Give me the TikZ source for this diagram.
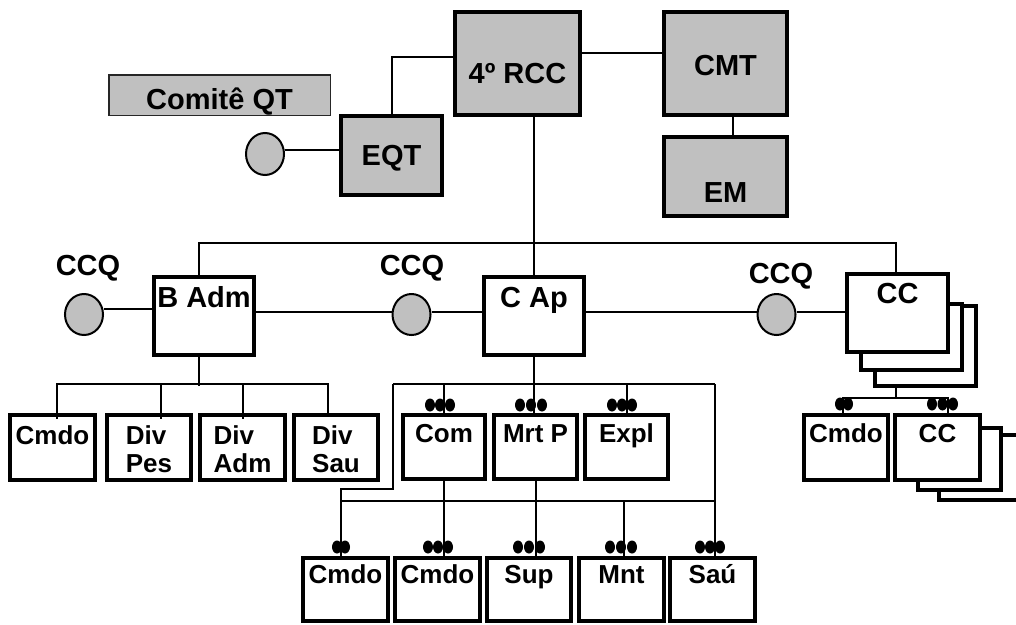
\documentclass[tikz,border=0pt]{standalone}
\usepackage{fontspec}
\setmainfont{Liberation Sans}
\usetikzlibrary{shapes.geometric,calc}
\definecolor{grayc}{HTML}{C0C0C0}
\tikzset{
  boxg/.style={draw, line width=4pt, outer sep=2pt, fill=grayc, inner sep=0pt, anchor=north west},
  boxw/.style={draw, line width=4pt, outer sep=2pt, fill=white, inner sep=0pt, anchor=north west},
  big/.style={font=\bfseries\fontsize{29}{32}\selectfont},
  small/.style={font=\bfseries\fontsize{26}{28}\selectfont},
  conn/.style={line width=2pt},
  ccq/.style={ellipse, draw, line width=2pt, fill=grayc, inner sep=0pt, minimum width=38pt, minimum height=41pt},
  ccqlbl/.style={big, anchor=base, inner sep=0pt}
}
\begin{document}
\begin{tikzpicture}[x=1pt,y=-1pt]
\useasboundingbox (0,0) rectangle (1016,624);
% top
\node[boxg, big, minimum width=125pt, text height=71pt, text depth=32pt] (rcc) at (453,10) {4º RCC};
\node[boxg, big, minimum width=123pt, text height=63pt, text depth=40pt] (cmt) at (662,10) {CMT};
\node[boxg, big, minimum width=123pt, text height=65pt, text depth=14pt] (em) at (662,135) {EM};
\node[boxg, big, minimum width=101pt, text height=49pt, text depth=30pt] (eqt) at (339,114) {EQT};
\node[draw, line width=1.5pt, outer sep=0.75pt, fill=grayc, inner sep=0pt, anchor=north west, big,
      draw=black!85, minimum width=221.5pt, text height=34.25pt, text depth=6.25pt] (comite) at (108,74) {Comitê QT};
\node[ccq, minimum height=42pt] (qc) at (265,154) {};
% middle row
\node[boxw, big, minimum width=100pt, text height=30pt, text depth=48pt] (badm) at (152,275) {B Adm};
\node[boxw, big, minimum width=100pt, text height=30pt, text depth=48pt] (cap) at (482,275) {C Ap};
\node[boxw, minimum width=101pt, minimum height=80pt] (cc3) at (873,304) {};
\node[boxw, minimum width=101pt, minimum height=66pt] (cc2b) at (859,302) {};
\node[boxw, big, minimum width=101pt, text height=29pt, text depth=49pt] (cc) at (845,272) {CC};
\node[ccq] (c1) at (84,314.5) {};
\node[ccq] (c2) at (411.5,314.5) {};
\node[ccq] (c3) at (776.5,314.5) {};
\node[ccqlbl] (l1) at (88,275) {CCQ};
\node[ccqlbl] (l2) at (412,275) {CCQ};
\node[ccqlbl] (l3) at (781,283) {CCQ};
% lower left row
\node[boxw, small, minimum width=85pt, text height=29pt, text depth=36pt] (cmdoa) at (8,413) {Cmdo};
\node[boxw, small, minimum width=84pt, text height=29pt, text depth=36pt] (divpes) at (105,413) {\begin{tabular}[t]{@{}l@{}}Div\\Pes\end{tabular}};
\node[boxw, small, minimum width=85pt, text height=29pt, text depth=36pt] (divadm) at (198,413) {\begin{tabular}[t]{@{}l@{}}Div\\Adm\end{tabular}};
\node[boxw, small, minimum width=84pt, text height=29pt, text depth=36pt] (divsau) at (292,413) {\begin{tabular}[t]{@{}l@{}}Div\\Sau\end{tabular}};
% middle row of C Ap
\node[boxw, small, minimum width=82pt, text height=27pt, text depth=37pt] (com) at (401,413) {Com};
\node[boxw, small, minimum width=83pt, text height=27pt, text depth=37pt] (mrtp) at (492,413) {Mrt P};
\node[boxw, small, minimum width=83pt, text height=27pt, text depth=37pt] (expl) at (583,413) {Expl};
% right row
\node[boxw, minimum width=83pt, minimum height=65pt] (ccb3) at (937,433) {};
\node[boxw, minimum width=83pt, minimum height=62pt] (ccb2) at (916,426) {};
\node[boxw, small, minimum width=84pt, text height=27pt, text depth=38pt] (cmdob) at (802,413) {Cmdo};
\node[boxw, small, minimum width=85pt, text height=27pt, text depth=38pt] (ccs) at (893,413) {CC};
% bottom row
\node[boxw, small, minimum width=85pt, text height=25pt, text depth=38pt] (cmdoc) at (301,556) {Cmdo};
\node[boxw, small, minimum width=85pt, text height=25pt, text depth=38pt] (cmdod) at (393,556) {Cmdo};
\node[boxw, small, minimum width=84pt, text height=25pt, text depth=38pt] (sup) at (485,556) {Sup};
\node[boxw, small, minimum width=85pt, text height=25pt, text depth=38pt] (mnt) at (577,556) {Mnt};
\node[boxw, small, minimum width=85pt, text height=25pt, text depth=38pt] (sau) at (668,556) {Saú};
% connectors top
\draw[conn] (eqt.north) |- ([yshift=6.5pt]rcc.west);
\draw[conn] ([yshift=10.5pt]rcc.east) -- ([yshift=10.5pt]cmt.west);
\draw[conn] ([xshift=7.5pt]cmt.south) -- ([xshift=7.5pt]em.north);
\draw[conn] ([yshift=4pt]qc.east) -- ([yshift=4pt]qc.east -| eqt.west);
\coordinate (bus) at (534,243);
\coordinate (busL) at (199,243);
\coordinate (busR) at (896,243);
\draw[conn] ([xshift=16.5pt]rcc.south) -- (bus);
\draw[conn] (busL |- badm.north) -- (busL) -- (busR) -- (busR |- cc.north);
\draw[conn] (bus) -- (cap.north);
\draw[conn] ([yshift=5.5pt]c1.east) -- ([yshift=5.5pt]c1.east -| badm.west);
\draw[conn] ([yshift=2.5pt]c2.west -| badm.east) -- ([yshift=2.5pt]c2.west);
\draw[conn] ([yshift=2.5pt]c2.east) -- ([yshift=2.5pt]c2.east -| cap.west);
\draw[conn] ([yshift=2.5pt]c3.west -| cap.east) -- ([yshift=2.5pt]c3.west);
\draw[conn] ([yshift=2.5pt]c3.east) -- ([yshift=2.5pt]c3.east -| cc.west);
% left tree
\coordinate (lb) at (199,386);
\coordinate (lbL) at (57,384);
\coordinate (lbR) at (328,384);
\coordinate (lb2) at (161,384);
\coordinate (lb3) at (243,384);
\draw[conn] (lb |- badm.south) -- (lb);
\draw[conn] ($(lbL |- cmdoa.north)+(0,6)$) -- (lbL) -- (lbR) -- (lbR |- divsau.north);
\draw[conn] (lb2) -- ($(lb2 |- divpes.north)+(0,6)$);
\draw[conn] (lb3) -- ($(lb3 |- divadm.north)+(0,6)$);
% middle tree
\coordinate (mb) at (534,384);
\coordinate (mbL) at (393,384);
\coordinate (mbR) at (715,384);
\coordinate (k1) at (393,489);
\coordinate (k2) at (341,489);
\coordinate (lowL) at (341,501);
\coordinate (lowR) at (715,501);
\coordinate (lowM) at (624,501);
\draw[conn] (cap.south) -- (mb);
\draw[conn] (mbL) -- (mbR);
\draw[conn] (com.north |- mb) -- (com.north);
\draw[conn] (mb) -- (mb |- mrtp.north);
\draw[conn] (expl.north |- mb) -- (expl.north);
\draw[conn] (mbL) -- (k1) -- (k2) -- ($(k2 |- cmdoc.north)+(0,4)$);
\draw[conn] (lowL) -- (lowR);
\draw[conn] (mbR) -- (mbR |- sau.north);
\draw[conn] (com.south) -- (com.south |- cmdod.north);
\draw[conn] (mrtp.south) -- (mrtp.south |- sup.north);
\draw[conn] (lowM) -- (lowM |- mnt.north);
% right tree
\coordinate (rb) at (896,398);
\coordinate (rbL) at (843,398);
\coordinate (rbR) at (948,398);
\draw[conn] (rb |- cc3.south) -- (rb);
\draw[conn] (rbL |- cmdob.north) -- (rbL) -- (rbR) -- (rbR |- ccs.north);
% dots
\foreach \x/\y in {430/405,440/405,450/405, 520/405,531/405,542/405, 612/405,622/405,632/405,
  840/404,848/404, 932/404,942.5/404,953/404,
  337/547,345/547, 428/547,438/547,448/547, 518/547,529/547,540/547, 610/547,621/547,632/547, 700/547,710/547,720/547}
  \fill (\x,\y) ellipse [x radius=5pt, y radius=6.5pt];
\end{tikzpicture}
\end{document}
